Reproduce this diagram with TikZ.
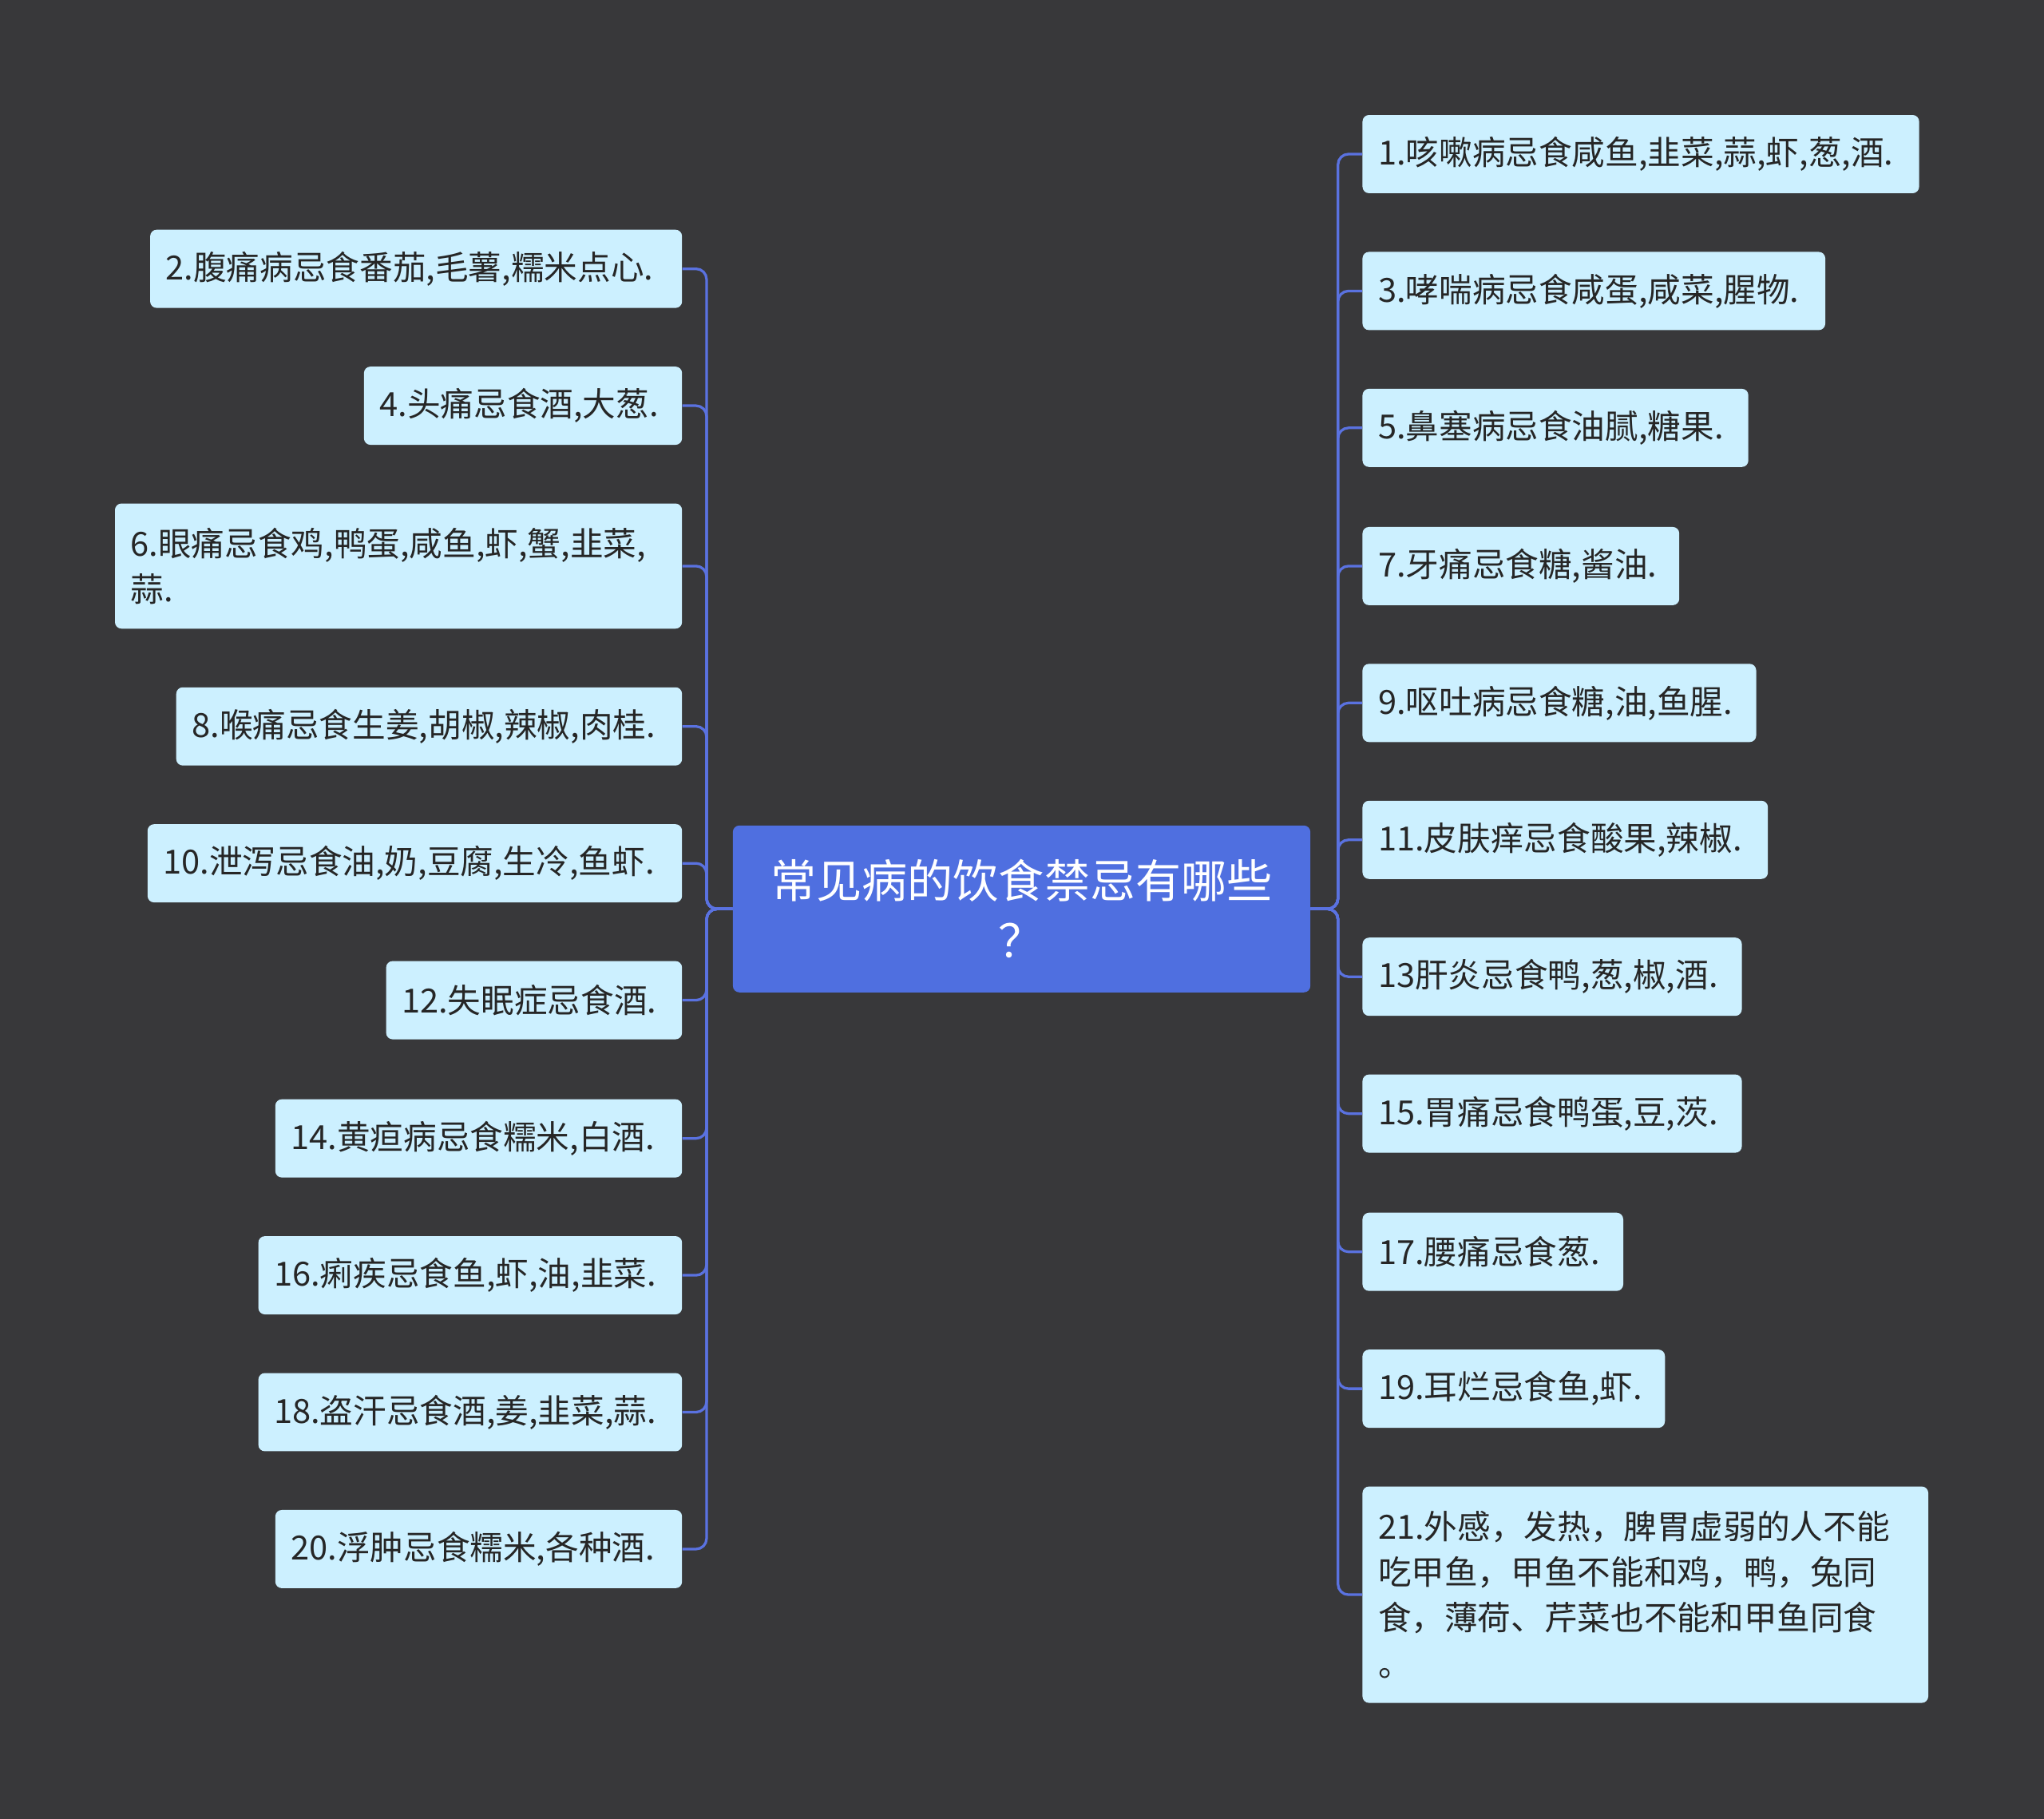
\documentclass[tikz,border=0pt]{standalone}
\usepackage{fontspec}
\setmainfont{Noto Sans CJK SC}
\definecolor{bg}{HTML}{38383A}
\definecolor{leaf}{HTML}{CCF0FF}
\definecolor{hub}{HTML}{4F6FE0}
\definecolor{wire}{HTML}{5A72E0}
\begin{document}
\begin{tikzpicture}[x=1pt,y=1pt,
 leafbox/.style={fill=leaf,rounded corners=5,anchor=north west,inner xsep=12,inner ysep=0,align=left,font=\fontsize{25.5}{35}\selectfont,text=black!85},
 hubbox/.style={fill=hub,rounded corners=5,anchor=north west,inner sep=0,align=center,font=\fontsize{35}{46}\selectfont,text=white},
 wireline/.style={draw=wire,line width=2,rounded corners=8}]
\fill[bg] (0,0) rectangle (1568,-1395);
\useasboundingbox (0,0) rectangle (1568,-1395);
\node[hubbox,minimum width=443,minimum height=128,text width=420] (c) at (562,-633) {常见病的饮食禁忌有哪些\\？};
\newcommand{\leafnode}[6]{\node[leafbox,minimum width=#3,minimum height=#4,text width=#3-24] (#5) at (#1,-#2) {#6};}
% left
\leafnode{115}{176}{408}{60}{n2}{2.腹痛病忌食番茄,毛薯,糯米点心.}
\leafnode{279}{281}{244}{60}{n4}{4.头痛忌食酒,大葱.}
\leafnode{88}{386}{435}{96}{n6}{6.眼痛忌食鸡,鸭蛋,咸鱼,虾,蟹,韭菜,\\蒜.}
\leafnode{135}{527}{388}{60}{n8}{8.喉痛忌食生姜,胡椒,辣椒,肉桂.}
\leafnode{113}{632}{410}{60}{n10}{10.泄泻忌食油,奶,豆腐,生冷,鱼虾.}
\leafnode{296}{737}{227}{60}{n12}{12.失眠症忌食酒.}
\leafnode{211}{843}{312}{60}{n14}{14.黄疸病忌食糯米,白酒.}
\leafnode{198}{948}{325}{60}{n16}{16.痢疾忌食鱼,虾,油,韭菜.}
\leafnode{198}{1053}{325}{60}{n18}{18.盗汗忌食酒,姜,韭菜,蒜.}
\leafnode{211}{1158}{312}{60}{n20}{20.浮肿忌食糯米,各种酒.}
% right
\leafnode{1045}{88}{427}{60}{n1}{1.咳嗽病忌食咸鱼,韭菜,蒜,虾,葱,酒.}
\leafnode{1045}{193}{355}{60}{n3}{3.哮喘病忌食咸蛋,咸菜,腥物.}
\leafnode{1045}{298}{296}{60}{n5}{5.鼻塞病忌食油腻,糖果.}
\leafnode{1045}{404}{243}{60}{n7}{7.牙痛忌食糖,酱油.}
\leafnode{1045}{509}{302}{60}{n9}{9.呕吐病忌食糖,油,鱼腥.}
\leafnode{1045}{614}{311}{60}{n11}{11.皮肤痒忌食酸果,辣椒.}
\leafnode{1045}{719}{291}{60}{n13}{13肝炎忌食鸭,葱,椒,酒.}
\leafnode{1045}{824}{291}{60}{n15}{15.胃痛忌食鸭蛋,豆,茨.}
\leafnode{1045}{930}{200}{60}{n17}{17.腰痛忌食葱.}
\leafnode{1045}{1035}{232}{60}{n19}{19.耳烂忌食鱼,虾.}
\leafnode{1045}{1140}{434}{166}{n21}{21.外感，发热，脾胃虚弱的人不能\\吃甲鱼，甲鱼不能和鸡，鸭，兔同\\食，薄荷、芹菜也不能和甲鱼同食\\。}
\foreach \n in {n2,n4,n6,n8,n10,n12,n14,n16,n18,n20}
  \draw[wireline] (c.west) -- ++(-20,0) |- (\n.east);
\foreach \n in {n1,n3,n5,n7,n9,n11,n13,n15,n17,n19,n21}
  \draw[wireline] (c.east) -- ++(21,0) |- (\n.west);
\end{tikzpicture}
\end{document}
